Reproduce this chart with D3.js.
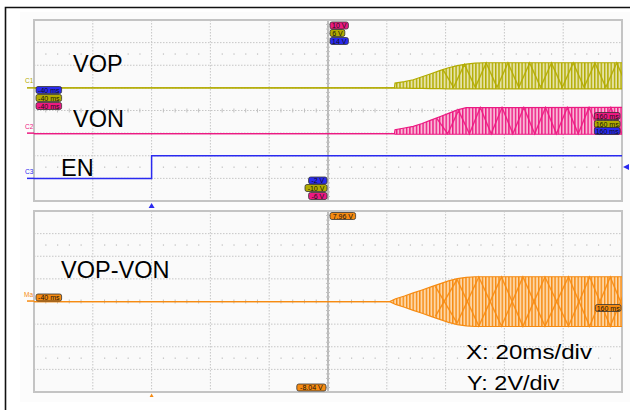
<!DOCTYPE html>
<html><head><meta charset="utf-8">
<script src="https://cdn.jsdelivr.net/npm/d3@7/dist/d3.min.js"></script>
<style>body{margin:0;background:#fff}svg{display:block}</style>
</head><body>
<svg id="c" width="630" height="410"></svg>
<script>
// ---- data ----
const timeDomain = [-40, 160];            // ms, 20 ms/div
const c1Range = [-10, 6];                 // V (VOP)
const c2Range = [-6, 10];                 // V (VON)
const c3Range = [-2, 14];                 // V (EN)
const mathRange = [-8.04, 7.96];          // V (VOP-VON)

const enTime = [-40, 0, 0, 160];
const enVolt = [0, 0, 2, 2];

const vopTime = [-40, 82.6, 82.8, 86, 89, 92, 95, 98, 101, 104, 107, 110, 113, 160];
const vopMax  = [0, 0, 0.42, 0.55, 0.72, 0.98, 1.25, 1.52, 1.78, 1.97, 2.1, 2.18, 2.22, 2.22];
const vopMin  = [0, 0, -0.02, -0.03, -0.04, -0.05, -0.06, -0.07, -0.08, -0.08, -0.09, -0.09, -0.09, -0.09];
// beat pattern (zig-zag of the dense switching traces)
const vopBeatTime = [99, 102.7, 106.4, 110.1, 113.8, 117.5, 121.2, 124.9, 128.6, 132.3, 136, 139.7, 143.4, 147.1, 150.8, 154.5, 158.2, 161.9];
const vopBeatVolt = [1.65, 0.05, 2.08, 0.05, 2.2, 0.05, 2.2, 0.05, 2.2, 0.05, 2.2, 0.05, 2.2, 0.05, 2.2, 0.05, 2.2, 0.05];

const vonTime = [-40, 82.6, 82.8, 86, 89, 92, 95, 98, 101, 104, 107, 160];
const vonMax  = [-0.05, -0.05, 0.3, 0.45, 0.6, 0.85, 1.15, 1.45, 1.75, 2.05, 2.25, 2.28];
const vonMin  = [-0.05, -0.05, -0.1, -0.1, -0.1, -0.1, -0.1, -0.1, -0.1, -0.1, -0.1, -0.1];
const vonBeatTime = [97, 100.7, 104.4, 108.1, 111.8, 115.5, 119.2, 122.9, 126.6, 130.3, 134, 137.7, 141.4, 145.1, 148.8, 152.5, 156.2, 159.9];
const vonBeatVolt = [1.3, -0.05, 2.0, -0.05, 2.26, -0.05, 2.26, -0.05, 2.26, -0.05, 2.26, -0.05, 2.26, -0.05, 2.26, -0.05, 2.26, -0.05];

const mathTime = [-40, 81, 83, 86, 89, 92, 95, 98, 101, 104, 107, 110, 160];
const mathMax  = [-0.05, -0.05, 0.2, 0.45, 0.72, 0.98, 1.25, 1.52, 1.78, 1.98, 2.1, 2.15, 2.15];
const mathMin  = [-0.05, -0.05, -0.3, -0.55, -0.82, -1.08, -1.35, -1.62, -1.88, -2.08, -2.2, -2.25, -2.25];
const mathBeatTime = [96.5, 103.9, 111.3, 119, 126.3, 133.8, 141.8, 149, 156, 163];
const mathBeatA = [1.3, -1.95, 2.12, -2.22, 2.12, -2.22, 2.12, -2.22, 2.12, -2.22];
const mathBeatB = [-1.35, 1.9, -2.22, 2.12, -2.22, 2.12, -2.22, 2.12, -2.22, 2.12];

const leftTimeLabel = "-40 ms", rightTimeLabel = "160 ms";
const topVoltLabels = ["10 V", "6 V", "14 V"];      // C2, C1, C3
const bottomVoltLabels = ["-2 V", "-10 V", "-6 V"]; // C3, C1, C2
const mathTopLabel = "7.96 V", mathBottomLabel = "-8.04 V";
const traceNames = ["VOP", "VON", "EN", "VOP-VON"];
const scaleText = ["X: 20ms/div", "Y: 2V/div"];

// ---- style ----
const COL = {c1: "#b2ab00", c2: "#ec1a82", c3: "#2a2af0", m: "#f68b12"};
const LIGHT = {c1: "#e6e3a8", c2: "#f8b8d6", c3: "#aab", m: "#fdd6a6"};
const FONT = "'Liberation Sans', Arial, sans-serif";

const svg = d3.select("#c");
const P1 = {x0: 34, x1: 622, y0: 20, y1: 201};
const P2 = {x0: 34, x1: 622, y0: 211, y1: 392};

const x = d3.scaleLinear().domain(timeDomain).range([P1.x0, P1.x1]);
const y1 = d3.scaleLinear().domain(c1Range).range([P1.y1, P1.y0]);
const y2 = d3.scaleLinear().domain(c2Range).range([P1.y1, P1.y0]);
const y3 = d3.scaleLinear().domain(c3Range).range([P1.y1, P1.y0]);
const ym = d3.scaleLinear().domain(mathRange).range([P2.y1, P2.y0]);

// outer frame
svg.append("rect").attr("x", 0).attr("y", 0).attr("width", 630).attr("height", 410).attr("fill", "#fff");
svg.append("path").attr("d", "M5.5,410 V7.5 H630").attr("fill", "none").attr("stroke", "#111").attr("stroke-width", 1.6);
svg.append("rect").attr("x", 20).attr("y", 12).attr("width", 610).attr("height", 390).attr("fill", "#fcfcfc");

function graticule(P, yScale, yStep) {
  const g = svg.append("g");
  g.append("rect").attr("x", P.x0).attr("y", P.y0).attr("width", P.x1 - P.x0).attr("height", P.y1 - P.y0)
    .attr("fill", "#fafafa");
  const xt = d3.range(timeDomain[0], timeDomain[1] + 0.01, 20);
  const dom = yScale.domain();
  const yt = d3.range(dom[0], dom[1] + 0.01, yStep);
  g.selectAll(".vg").data(xt.slice(1, -1)).join("line")
    .attr("x1", d => x(d)).attr("x2", d => x(d)).attr("y1", P.y0).attr("y2", P.y1)
    .attr("stroke", "#c6c6c6").attr("stroke-dasharray", "1.5,1.5").attr("stroke-width", 1);
  g.selectAll(".hg").data(yt.slice(1, -1)).join("line")
    .attr("y1", d => yScale(d)).attr("y2", d => yScale(d)).attr("x1", P.x0).attr("x2", P.x1)
    .attr("stroke", "#c6c6c6").attr("stroke-dasharray", "1.5,1.5").attr("stroke-width", 1);
  const minor = d3.range(timeDomain[0], timeDomain[1] + 0.01, 4).filter(t => (t - timeDomain[0]) % 20 !== 0);
  const pxDiv = (P.y1 - P.y0) / 8;
  [1.5, 6.5].forEach(r => {
    g.selectAll(null).data(minor).join("rect")
      .attr("x", d => x(d) - 0.5).attr("y", P.y0 + r * pxDiv - 0.5).attr("width", 1.2).attr("height", 1.2)
      .attr("fill", "#bcbcbc");
  });
  const cx = x((timeDomain[0] + timeDomain[1]) / 2), cy = (P.y0 + P.y1) / 2;
  g.append("line").attr("x1", cx).attr("x2", cx).attr("y1", P.y0).attr("y2", P.y1)
    .attr("stroke", "#9a9a9a").attr("stroke-width", 1.2);
  g.selectAll(null).data(minor).join("line")
    .attr("x1", d => x(d)).attr("x2", d => x(d)).attr("y1", cy - 2).attr("y2", cy + 2)
    .attr("stroke", "#c0c0c0");
  g.selectAll(null).data(d3.range(1, 40)).join("line")
    .attr("x1", cx - 2).attr("x2", cx + 2).attr("y1", d => P.y0 + d * pxDiv / 5).attr("y2", d => P.y0 + d * pxDiv / 5)
    .attr("stroke", "#c0c0c0");
  g.append("rect").attr("x", P.x0).attr("y", P.y0).attr("width", P.x1 - P.x0).attr("height", P.y1 - P.y0)
    .attr("fill", "none").attr("stroke", "#c4c4c4").attr("stroke-width", 2);
}
graticule(P1, y2, 2);
graticule(P2, ym, 2);

const defs = svg.append("defs");
["c1", "c2", "m"].forEach(k => {
  const p = defs.append("pattern").attr("id", "st" + k).attr("patternUnits", "userSpaceOnUse")
    .attr("width", 3.3).attr("height", 10);
  p.append("rect").attr("width", 3.3).attr("height", 10).attr("fill", LIGHT[k]);
  p.append("rect").attr("width", 1.4).attr("height", 10).attr("fill", COL[k]);
});
defs.append("clipPath").attr("id", "clip1").append("rect")
  .attr("x", P1.x0).attr("y", P1.y0).attr("width", P1.x1 - P1.x0).attr("height", P1.y1 - P1.y0);
defs.append("clipPath").attr("id", "clip2").append("rect")
  .attr("x", P2.x0).attr("y", P2.y0).attr("width", P2.x1 - P2.x0).attr("height", P2.y1 - P2.y0);

function envelope(times, mx, mn, yS, key, clip, beats) {
  const data = times.map((t, i) => ({t, hi: mx[i], lo: mn[i]}));
  const g = svg.append("g").attr("clip-path", `url(#${clip})`);
  g.append("path").datum(data)
    .attr("d", d3.area().x(d => x(d.t)).y0(d => yS(d.lo)).y1(d => yS(d.hi)))
    .attr("fill", `url(#st${key})`);
  beats.forEach(([bt, bv]) => {
    g.append("path").datum(bt.map((t, i) => ({t, v: bv[i]})))
      .attr("d", d3.line().x(d => x(d.t)).y(d => yS(d.v)))
      .attr("fill", "none").attr("stroke", COL[key]).attr("stroke-width", 1.4).attr("opacity", 0.9);
  });
  g.append("path").datum(data)
    .attr("d", d3.line().x(d => x(d.t)).y(d => yS(d.hi)))
    .attr("fill", "none").attr("stroke", COL[key]).attr("stroke-width", 1.2);
  g.append("path").datum(data)
    .attr("d", d3.line().x(d => x(d.t)).y(d => yS(d.lo)))
    .attr("fill", "none").attr("stroke", COL[key]).attr("stroke-width", 1.2);
}
envelope(vopTime, vopMax, vopMin, y1, "c1", "clip1", [[vopBeatTime, vopBeatVolt]]);
envelope(vonTime, vonMax, vonMin, y2, "c2", "clip1", [[vonBeatTime, vonBeatVolt]]);
envelope(mathTime, mathMax, mathMin, ym, "m", "clip2", [[mathBeatTime, mathBeatA], [mathBeatTime, mathBeatB]]);

// EN
svg.append("path").datum(enTime.map((t, i) => ({t, v: enVolt[i]})))
  .attr("d", d3.line().x(d => x(d.t)).y(d => y3(d.v)))
  .attr("fill", "none").attr("stroke", COL.c3).attr("stroke-width", 1.5);

// ground markers
[[y1, "C1", COL.c1], [y2, "C2", COL.c2], [y3, "C3", COL.c3]].forEach(([s, t, c]) => {
  svg.append("line").attr("x1", 27).attr("x2", P1.x0).attr("y1", s(0)).attr("y2", s(0)).attr("stroke", c).attr("stroke-width", 1.5);
  svg.append("text").attr("x", 25).attr("y", s(0) - 4.5).text(t).attr("fill", c)
    .attr("font-size", 6.5).attr("font-family", FONT);
});
svg.append("line").attr("x1", 27).attr("x2", P2.x0).attr("y1", ym(0)).attr("y2", ym(0)).attr("stroke", COL.m).attr("stroke-width", 1.5);
svg.append("text").attr("x", 24).attr("y", ym(0) - 4).text("Ma").attr("fill", COL.m)
  .attr("font-size", 6.5).attr("font-family", FONT);

function badge(xp, yp, txt, col, anchorRight) {
  const w = txt.length * 3.6 + 4;
  const x0 = anchorRight ? xp - w : xp;
  const g = svg.append("g");
  g.append("rect").attr("x", x0).attr("y", yp).attr("width", w).attr("height", 7).attr("rx", 2)
    .attr("fill", col).attr("stroke", "#333").attr("stroke-width", 0.8);
  g.append("text").attr("x", x0 + w / 2).attr("y", yp + 6).attr("text-anchor", "middle")
    .attr("font-size", 7).attr("font-family", FONT).attr("fill", "#111").text(txt);
}
const cxp = x((timeDomain[0] + timeDomain[1]) / 2);
badge(36, 86.5, leftTimeLabel, COL.c3);
badge(36, 94.5, leftTimeLabel, COL.c1);
badge(36, 102.5, leftTimeLabel, COL.c2);
badge(620, 112.5, rightTimeLabel, COL.c2, true);
badge(620, 120.5, rightTimeLabel, COL.c1, true);
badge(620, 127.5, rightTimeLabel, COL.c3, true);
badge(cxp + 2, 22, topVoltLabels[0], COL.c2);
badge(cxp + 2, 29.5, topVoltLabels[1], COL.c1);
badge(cxp + 2, 37.5, topVoltLabels[2], COL.c3);
badge(cxp - 1, 177, bottomVoltLabels[0], COL.c3, true);
badge(cxp - 1, 184.5, bottomVoltLabels[1], COL.c1, true);
badge(cxp - 1, 192.5, bottomVoltLabels[2], COL.c2, true);
badge(cxp + 2, 212.5, mathTopLabel, COL.m);
badge(cxp - 2, 384, mathBottomLabel, COL.m, true);
badge(36, 294, leftTimeLabel, COL.m);
badge(621, 304.5, rightTimeLabel, COL.m, true);

// trigger markers
svg.append("path").attr("d", `M${x(0) - 3},208 L${x(0) + 3},208 L${x(0)},203 Z`).attr("fill", COL.c3);
svg.append("path").attr("d", `M${x(0) - 2},397 L${x(0) + 2},397 L${x(0)},393.5 Z`).attr("fill", COL.m);
svg.append("path").attr("d", `M629,${y3(1) - 3} L629,${y3(1) + 3} L623,${y3(1)} Z`).attr("fill", COL.c3);

const big = [[traceNames[0], 73, 72], [traceNames[1], 73, 126.5], [traceNames[2], 61, 176], [traceNames[3], 61, 278]];
big.forEach(([t, xx, yy]) => svg.append("text").attr("x", xx).attr("y", yy).text(t)
  .attr("font-size", 23.5).attr("font-family", FONT).attr("fill", "#000"));
svg.append("text").attr("x", 466).attr("y", 359).text(scaleText[0]).attr("font-size", 19.5)
  .attr("font-family", FONT).attr("textLength", 126).attr("lengthAdjust", "spacingAndGlyphs");
svg.append("text").attr("x", 467).attr("y", 390).text(scaleText[1]).attr("font-size", 19.5)
  .attr("font-family", FONT).attr("textLength", 92.5).attr("lengthAdjust", "spacingAndGlyphs");
</script>
</body></html>
